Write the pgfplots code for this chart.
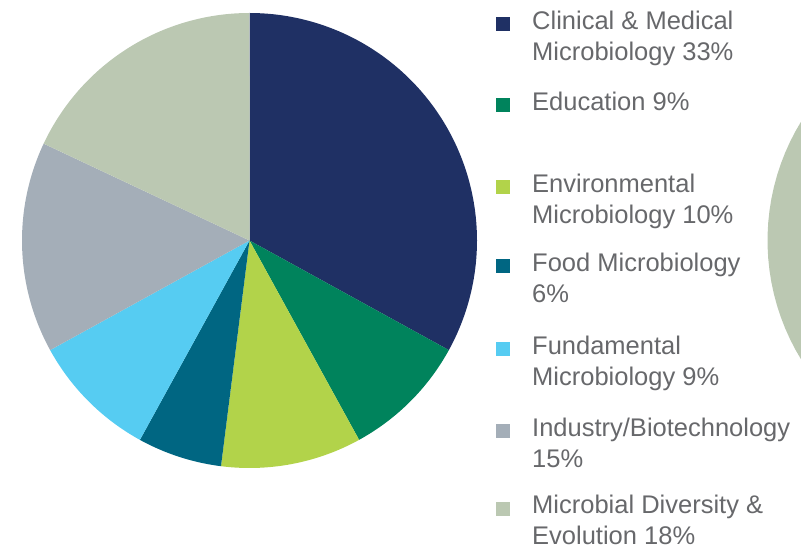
\documentclass[border=0pt]{standalone}
\usepackage{pgfplots}
\pgfplotsset{compat=1.18}
\usepackage{fontspec}
\setmainfont{Liberation Sans}

\definecolor{clinical}{HTML}{1F3064}
\definecolor{education}{HTML}{00835C}
\definecolor{environ}{HTML}{B2D34A}
\definecolor{food}{HTML}{006682}
\definecolor{fundam}{HTML}{56CCF2}
\definecolor{industry}{HTML}{A4AEB8}
\definecolor{diversity}{HTML}{BBC8B2}
\definecolor{legtext}{HTML}{67686B}

% pie centre and radius, in pixels of the 801x549 frame (y up)
\def\cx{249.5}\def\cy{308.5}\def\rr{227.5}
\def\cum{90}
% one wedge: share in percent, colour; runs clockwise from 12 o'clock
\newcommand\slice[2]{%
  \pgfmathsetmacro\sa{\cum}%
  \pgfmathsetmacro\sb{\cum-3.6*#1}%
  \edef\temp{\noexpand\addplot[fill=#2, draw=none, domain=\sa:\sb, samples=100, variable=\noexpand\t]
    ({\cx+\rr*cos(\noexpand\t)},{\cy+\rr*sin(\noexpand\t)}) -- (axis cs:\cx,\cy) -- cycle;}%
  \temp
  \global\let\cum\sb
}
\tikzset{leg/.style={anchor=base west, inner sep=0pt, text=legtext,
  font=\fontsize{25.5bp}{31bp}\selectfont}}

\begin{document}
\begin{tikzpicture}
\begin{axis}[
    at={(0,0)}, anchor=south west,
    scale only axis,
    width=801bp, height=549bp,
    xmin=0, xmax=801, ymin=0, ymax=549,
    hide axis, clip=true,
]
    \slice{33}{clinical}
    \slice{9}{education}
    \slice{10}{environ}
    \slice{6}{food}
    \slice{9}{fundam}
    \slice{15}{industry}
    \slice{18}{diversity}

    % the next pie, cut off at the right edge
    \addplot[fill=diversity, draw=none, domain=0:360, samples=120, variable=\t]
        ({995+227.5*cos(\t)},{308.5+227.5*sin(\t)}) -- cycle;

    % legend squares
    \addplot[only marks, mark=square*, mark size=6.5, clinical] coordinates {(502.5,525.5)};
    \addplot[only marks, mark=square*, mark size=6.5, education] coordinates {(502.5,444.5)};
    \addplot[only marks, mark=square*, mark size=6.5, environ] coordinates {(502.5,362.5)};
    \addplot[only marks, mark=square*, mark size=6.5, food] coordinates {(502.5,283.5)};
    \addplot[only marks, mark=square*, mark size=6.5, fundam] coordinates {(502.5,200.5)};
    \addplot[only marks, mark=square*, mark size=6.5, industry] coordinates {(502.5,118.5)};
    \addplot[only marks, mark=square*, mark size=6.5, diversity] coordinates {(502.5,40.5)};

    \node[leg] at (axis cs:532,519) {Clinical \& Medical};
    \node[leg] at (axis cs:532,488) {Microbiology 33\%};
    \node[leg] at (axis cs:532,438) {Education 9\%};
    \node[leg] at (axis cs:532,356) {Environmental};
    \node[leg] at (axis cs:532,325) {Microbiology 10\%};
    \node[leg] at (axis cs:532,277) {Food Microbiology};
    \node[leg] at (axis cs:532,246) {6\%};
    \node[leg] at (axis cs:532,194) {Fundamental};
    \node[leg] at (axis cs:532,163) {Microbiology 9\%};
    \node[leg] at (axis cs:532,112) {Industry/Biotechnology};
    \node[leg] at (axis cs:532,81) {15\%};
    \node[leg] at (axis cs:532,35) {Microbial Diversity \&};
    \node[leg] at (axis cs:532,5) {Evolution 18\%};
\end{axis}
\pgfresetboundingbox
\path (0,0) rectangle (801bp,549bp);
\end{tikzpicture}
\end{document}
